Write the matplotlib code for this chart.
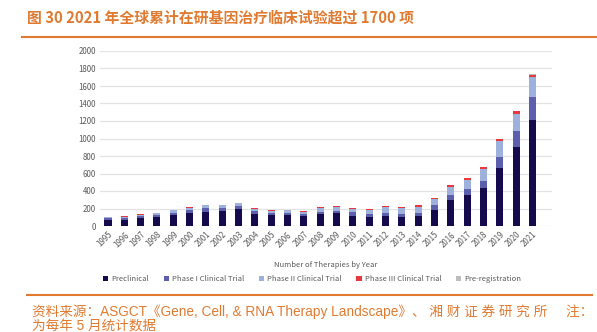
import matplotlib.pyplot as plt
import numpy as np

plt.rcParams['font.family'] = ['Noto Sans CJK SC', 'DejaVu Sans']

years = [str(y) for y in range(1995, 2022)]
preclinical = [70, 72, 92, 103, 125, 153, 165, 172, 195, 138, 122, 125, 118, 138, 145,
               115, 105, 115, 105, 115, 180, 295, 355, 430, 665, 905, 1210]
phase1 = [20, 22, 23, 25, 28, 27, 38, 32, 30, 30, 27, 28, 22, 22, 28,
          40, 35, 38, 33, 35, 55, 65, 70, 85, 125, 180, 260]
phase2 = [10, 12, 15, 22, 27, 30, 35, 35, 33, 27, 23, 27, 25, 47, 42,
          42, 45, 62, 65, 70, 70, 90, 100, 135, 180, 200, 235]
phase3 = [3, 5, 5, 3, 4, 5, 7, 6, 8, 8, 7, 4, 10, 10, 12,
          10, 10, 10, 13, 15, 15, 20, 20, 20, 22, 24, 25]
prereg = [0, 0, 0, 0, 0, 0, 0, 0, 0, 0, 0, 0, 0, 0, 0,
          0, 0, 0, 0, 0, 0, 1, 1, 1, 2, 2, 3]

series = [("Preclinical", preclinical, "#140a4c"),
          ("Phase I Clinical Trial", phase1, "#5c5fac"),
          ("Phase II Clinical Trial", phase2, "#9eb1dc"),
          ("Phase III Clinical Trial", phase3, "#e8383d"),
          ("Pre-registration", prereg, "#bdbdbd")]

orange = "#e07a30"

fig = plt.figure(figsize=(5.97, 3.32), dpi=100)
ax = fig.add_axes([100/597, 1 - 226/332, 452/597, 175/332])

x = np.arange(len(years))
bottom = np.zeros(len(years))
for name, vals, col in series:
    ax.bar(x, vals, 0.43, bottom=bottom, color=col, label=name, zorder=3)
    bottom += np.array(vals)

ax.set_ylim(0, 2000)
ax.set_yticks(range(0, 2001, 200))
ax.set_xlim(-0.49, 27.2)
ax.set_xticks(x)
ax.set_xticklabels(years, rotation=45, ha='right', rotation_mode='anchor')
ax.tick_params(length=0, labelsize=5.7, labelcolor="#595959", pad=3)
ax.grid(axis='y', color="#e3e3e3", lw=0.9, zorder=0)
for s in ax.spines.values():
    s.set_visible(False)
ax.set_xlabel("Number of Therapies by Year", fontsize=5.5, color="#595959", labelpad=9)

fig.legend(loc='center', bbox_to_anchor=(0.523, 1 - 279/332), ncol=5, frameon=False,
           fontsize=5.5, handlelength=0.7, handleheight=0.7, columnspacing=1.9,
           handletextpad=0.4, labelcolor="#595959")

# title and rules
fig.text(27/597, 1 - 18/332, "图 30 2021 年全球累计在研基因治疗临床试验超过 1700 项",
         fontsize=10.7, fontweight='bold', color=orange, va='center')
fig.add_artist(plt.Line2D([22/597, 1], [1 - 37/332] * 2, color=orange, lw=1.5))
fig.add_artist(plt.Line2D([27/597, 592/597], [1 - 295/332] * 2, color=orange, lw=1.5))

src_font = ['Liberation Sans', 'Noto Sans CJK SC']
fig.text(32/597, 1 - 312/332,
         "资料来源：ASGCT《Gene, Cell, & RNA Therapy Landscape》、 湘 财 证 券 研 究 所     注：",
         fontsize=9.8, color=orange, va='center', family=src_font)
fig.text(32/597, 1 - 326/332, "为每年 5 月统计数据", fontsize=9.8, color=orange,
         va='center', family=src_font)

fig.savefig("out.png", dpi=100)
